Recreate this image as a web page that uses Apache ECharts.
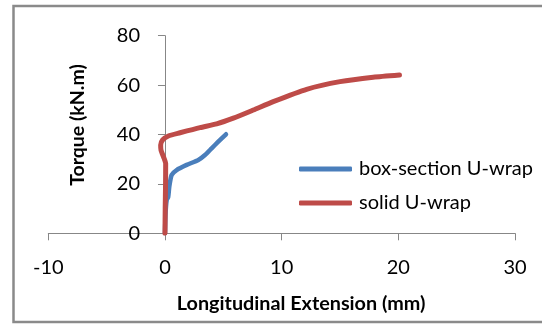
<!DOCTYPE html>
<html>
<head>
<meta charset="utf-8">
<script src="https://cdn.jsdelivr.net/npm/echarts@6/dist/echarts.min.js"></script>
<style>
html,body{margin:0;padding:0;background:#fff;}
#chart{width:542px;height:325px;}
</style>
</head>
<body>
<div id="chart"></div>
<script>
const seriesNames = ['box-section U-wrap', 'solid U-wrap'];
const boxX = [0, 0.05, 0.15, 0.28, 0.37, 0.57, 1.0, 1.86, 2.86, 3.43, 4.0, 4.57, 5.23];
const boxY = [0, 8, 13.5, 14.8, 18.9, 23.6, 25.6, 27.7, 29.7, 31.7, 34.4, 37.1, 40.1];
const solidX = [0, 0.02, 0.05, 0.06, -0.08, -0.34, -0.37, -0.2, 0.29, 1.29, 3.0, 4.43, 5.86, 7.57, 9.28, 12.14, 15.0, 17.85, 20.1];
const solidY = [0, 10, 20, 28.3, 30.4, 33.7, 35.7, 37.8, 39.4, 40.7, 42.8, 44.3, 46.6, 49.9, 53.3, 58.3, 61.4, 63.2, 64.1];
const xTicks = [-10, 0, 10, 20, 30];
const yTicks = [0, 20, 40, 60, 80];

const pair = (xs, ys) => xs.map((x, i) => [x, ys[i]]);
const FONT = 'Lato';
const GRID_LEFT = 48.3, GRID_RIGHT = 27;
const plotW = 542 - GRID_LEFT - GRID_RIGHT;
// y axis sits where x = 0
const yAxisShift = plotW * (0 - xTicks[0]) / (xTicks[xTicks.length - 1] - xTicks[0]);

const chart = echarts.init(document.getElementById('chart'), null, {renderer: 'canvas'});
chart.setOption({
  animation: false,
  backgroundColor: '#fff',
  graphic: [{
    type: 'rect', shape: {x: 13.5, y: 6, width: 540, height: 316},
    style: {fill: 'none', stroke: '#8a8a8a', lineWidth: 2.5}, silent: true, z: -1
  }],
  grid: {left: GRID_LEFT, right: GRID_RIGHT, top: 35.7, bottom: 91.7, containLabel: false, outerBoundsMode: 'none'},
  legend: {
    orient: 'vertical', left: 294, top: 154, itemWidth: 53, itemHeight: 5, itemGap: 14,
    icon: 'roundRect',
    textStyle: {fontFamily: FONT, fontSize: 20, color: '#000', padding: [0, 0, 0, 2]},
    data: seriesNames
  },
  xAxis: {
    type: 'value', min: xTicks[0], max: xTicks[xTicks.length - 1], interval: 10,
    name: 'Longitudinal Extension (mm)', nameLocation: 'middle', nameGap: 60,
    nameTextStyle: {fontFamily: FONT, fontSize: 19.8, fontWeight: 'bold', color: '#000', padding: [0, 0, 0, 39]},
    axisLine: {show: true, onZero: false, lineStyle: {color: '#878787', width: 1}},
    axisTick: {show: true, length: 7, lineStyle: {color: '#878787'}},
    axisLabel: {fontFamily: FONT, fontSize: 20, color: '#000', margin: 24},
    splitLine: {show: false}
  },
  yAxis: {
    type: 'value', min: yTicks[0], max: yTicks[yTicks.length - 1], interval: 20,
    offset: -yAxisShift,
    name: 'Torque (kN.m)', nameLocation: 'middle', nameGap: 77,
    nameTextStyle: {fontFamily: FONT, fontSize: 19.5, fontWeight: 'bold', color: '#000', padding: [0, 0, 0, 19]},
    axisLine: {show: true, onZero: false, lineStyle: {color: '#878787', width: 1}},
    axisTick: {show: true, length: 7, lineStyle: {color: '#878787'}},
    axisLabel: {fontFamily: FONT, fontSize: 20, color: '#000', margin: 25},
    splitLine: {show: false}
  },
  series: [
    {
      name: seriesNames[0], type: 'line', data: pair(boxX, boxY),
      showSymbol: false, smooth: 0.2, color: '#4A7EBB',
      lineStyle: {width: 4.5, color: '#4A7EBB', cap: 'round', join: 'round'}
    },
    {
      name: seriesNames[1], type: 'line', data: pair(solidX, solidY),
      showSymbol: false, smooth: 0.2, color: '#BE4B48',
      lineStyle: {width: 5, color: '#BE4B48', cap: 'round', join: 'round'}
    }
  ]
});
</script>
</body>
</html>
